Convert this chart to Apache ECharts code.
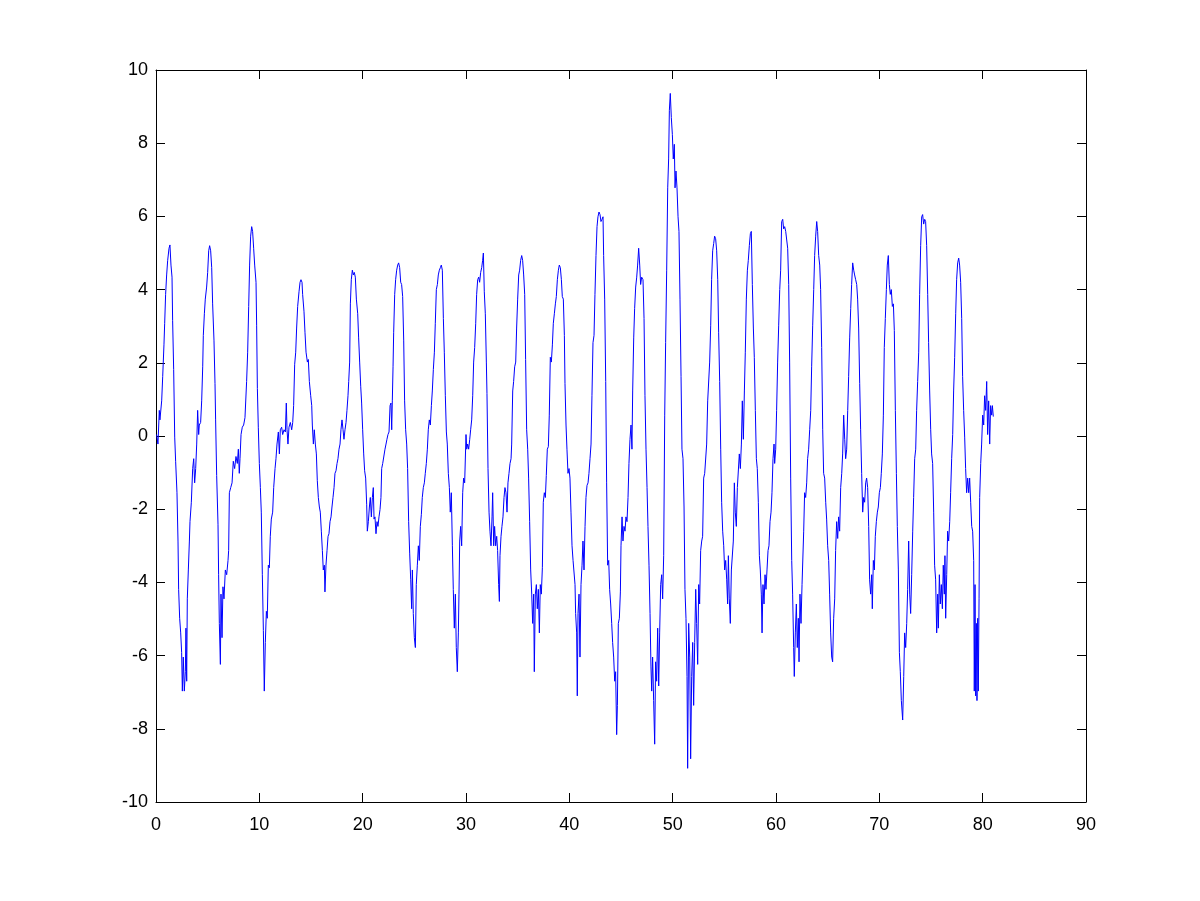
<!DOCTYPE html>
<html>
<head>
<meta charset="utf-8">
<script src="https://cdn.jsdelivr.net/npm/echarts@6/dist/echarts.min.js"></script>
<style>html,body{margin:0;padding:0;background:#fff;}#c{width:1200px;height:901px;}</style>
</head>
<body>
<div id="c"></div>
<script>
const xTicks = [0,10,20,30,40,50,60,70,80,90];
const yTicks = [-10,-8,-6,-4,-2,0,2,4,6,8,10];
const xs = [
0.06,0.19,0.32,0.38,0.55,0.65,0.77,0.84,0.93,1.03,1.13,1.26,1.35,1.45,1.55,1.61,1.71,1.81,1.9,2.03,2.13,2.19,2.29,2.39,2.48,2.55,2.64,2.74,2.84,2.9,2.97,3.03,3.13,3.23,3.29,3.42,3.55,3.65,3.74,3.84,3.94,4.03,4.13,4.19,4.32,4.42,4.52,4.58,4.68,4.77,4.9,5.0,5.1,5.19,5.29,5.39,5.48,5.61,5.71,5.77,5.87,6.0,6.06,6.13,6.23,6.29,6.39,6.48,6.58,6.71,6.84,6.97,7.03,7.1,7.23,7.36,7.48,7.61,7.74,7.87,7.97,8.06,8.13,8.23,8.35,8.48,8.61,8.71,8.77,8.87,8.97,9.06,9.16,9.26,9.35,9.45,9.55,9.68,9.74,9.81,9.9,10.0,10.1,10.19,10.29,10.39,10.48,10.58,10.68,10.77,10.87,10.97,11.06,11.16,11.29,11.39,11.52,11.61,11.71,11.84,11.94,12.03,12.16,12.26,12.39,12.52,12.61,12.68,12.77,12.87,13.0,13.13,13.23,13.32,13.42,13.52,13.61,13.71,13.84,13.94,14.03,14.13,14.19,14.32,14.42,14.52,14.65,14.74,14.84,
14.97,15.07,15.13,15.23,15.32,15.42,15.52,15.61,15.71,15.81,15.9,16.0,16.1,16.19,16.29,16.35,16.45,16.55,16.65,16.74,16.84,16.94,17.03,17.13,17.23,17.32,17.42,17.52,17.61,17.71,17.81,17.9,18.0,18.1,18.19,18.29,18.39,18.48,18.58,18.65,18.74,18.81,18.9,19.0,19.1,19.19,19.29,19.39,19.52,19.61,19.71,19.81,19.9,20.0,20.1,20.19,20.29,20.39,20.45,20.55,20.65,20.74,20.84,20.94,21.03,21.1,21.19,21.29,21.39,21.48,21.58,21.68,21.77,21.84,21.94,22.06,22.16,22.26,22.35,22.45,22.55,22.65,22.74,22.81,22.87,22.94,23.0,23.1,23.19,23.29,23.39,23.48,23.58,23.68,23.77,23.87,23.97,24.06,24.16,24.26,24.35,24.45,24.55,24.65,24.74,24.81,24.9,25.0,25.1,25.19,25.29,25.39,25.48,25.58,25.68,25.77,25.87,25.97,26.06,26.16,26.26,26.35,26.45,26.55,26.65,26.74,26.84,26.94,27.03,27.13,27.23,27.32,27.42,27.52,27.61,27.71,27.81,27.9,28.0,28.1,28.19,28.29,28.39,28.48,28.58,28.68,28.77,28.87,28.97,29.06,29.16,29.26,29.32,29.39,29.48,29.58,29.68,29.77,29.87,
30.0,30.07,30.16,30.26,30.36,30.45,30.55,30.65,30.74,30.84,30.94,31.03,31.13,31.23,31.32,31.42,31.52,31.61,31.68,31.77,31.87,31.97,32.03,32.13,32.23,32.32,32.42,32.52,32.58,32.68,32.77,32.87,32.97,33.06,33.16,33.23,33.29,33.39,33.48,33.58,33.68,33.77,33.87,33.97,34.06,34.16,34.26,34.36,34.42,34.52,34.61,34.71,34.81,34.9,35.0,35.1,35.19,35.29,35.39,35.48,35.58,35.68,35.77,35.87,35.97,36.06,36.16,36.26,36.36,36.45,36.55,36.61,36.71,36.81,36.9,37.0,37.1,37.19,37.29,37.39,37.48,37.58,37.68,37.77,37.87,37.97,38.06,38.16,38.26,38.36,38.45,38.55,38.65,38.74,38.84,38.94,39.03,39.13,39.23,39.32,39.42,39.52,39.58,39.68,39.77,39.87,39.97,40.06,40.16,40.26,40.36,40.45,40.55,40.61,40.71,40.77,40.84,40.94,41.03,41.13,41.23,41.32,41.42,41.52,41.61,41.71,41.81,41.9,42.0,42.1,42.19,42.29,42.39,42.48,42.58,42.68,42.77,42.87,42.97,43.06,43.16,43.26,43.32,43.42,43.52,43.61,43.71,43.81,43.9,44.0,44.1,44.19,44.29,44.39,44.48,44.58,44.65,44.74,44.84,44.94,45.0,
45.1,45.19,45.29,45.39,45.48,45.58,45.68,45.77,45.87,45.97,46.06,46.13,46.23,46.32,46.42,46.52,46.61,46.71,46.81,46.9,47.0,47.13,47.23,47.32,47.42,47.52,47.61,47.71,47.81,47.9,47.97,48.06,48.16,48.26,48.35,48.45,48.55,48.65,48.74,48.84,48.94,49.03,49.13,49.23,49.32,49.42,49.52,49.61,49.68,49.77,49.87,49.97,50.06,50.16,50.23,50.32,50.42,50.52,50.61,50.71,50.81,50.9,51.0,51.1,51.19,51.29,51.39,51.45,51.55,51.65,51.74,51.84,51.94,52.03,52.13,52.23,52.32,52.42,52.52,52.61,52.71,52.81,52.9,53.0,53.1,53.19,53.29,53.39,53.48,53.58,53.68,53.77,53.87,53.97,54.06,54.16,54.26,54.36,54.45,54.55,54.65,54.74,54.84,54.94,55.03,55.13,55.23,55.32,55.39,55.48,55.58,55.68,55.77,55.87,55.97,56.06,56.16,56.26,56.36,56.45,56.55,56.65,56.74,56.84,56.94,57.03,57.13,57.23,57.32,57.42,57.52,57.61,57.71,57.81,57.9,58.0,58.1,58.19,58.29,58.39,58.48,58.58,58.65,58.74,58.84,58.94,59.03,59.13,59.23,59.32,59.42,59.52,59.61,59.71,59.81,
59.87,59.97,60.06,60.16,60.26,60.36,60.45,60.55,60.65,60.74,60.84,60.94,61.03,61.13,61.23,61.32,61.42,61.52,61.61,61.71,61.77,61.87,61.97,62.06,62.16,62.23,62.32,62.42,62.52,62.61,62.68,62.77,62.87,62.97,63.06,63.16,63.26,63.36,63.45,63.55,63.65,63.74,63.84,63.94,64.03,64.13,64.23,64.32,64.42,64.52,64.61,64.71,64.81,64.9,65.0,65.1,65.19,65.29,65.39,65.48,65.58,65.68,65.77,65.87,65.97,66.06,66.16,66.26,66.36,66.45,66.55,66.65,66.74,66.84,66.94,67.03,67.13,67.23,67.32,67.42,67.52,67.61,67.71,67.81,67.9,68.0,68.1,68.19,68.29,68.39,68.48,68.58,68.68,68.77,68.87,68.97,69.06,69.16,69.26,69.32,69.42,69.52,69.61,69.71,69.81,69.9,70.0,70.1,70.19,70.29,70.39,70.48,70.58,70.68,70.77,70.87,70.97,71.06,71.16,71.26,71.36,71.45,71.55,71.65,71.74,71.84,71.94,72.03,72.13,72.26,72.36,72.45,72.55,72.65,72.74,72.84,72.94,73.03,73.13,73.23,73.32,73.42,73.52,73.61,73.71,73.81,73.9,74.0,74.1,74.19,74.29,74.39,74.48,74.58,74.68,74.77,74.87,
74.97,75.06,75.16,75.26,75.35,75.45,75.55,75.65,75.71,75.81,75.9,76.0,76.1,76.19,76.29,76.35,76.42,76.52,76.61,76.71,76.81,76.9,77.0,77.1,77.19,77.29,77.39,77.48,77.58,77.68,77.77,77.87,77.97,78.06,78.16,78.26,78.35,78.45,78.55,78.65,78.74,78.84,78.94,79.03,79.13,79.19,79.26,79.32,79.39,79.45,79.52,79.58,79.65,79.71,79.81,79.9,80.0,80.1,80.19,80.29,80.39,80.48,80.58,80.68,80.77,80.87,80.94,81.03
];
const ys = [
0.04,-0.22,0.7,0.44,0.96,1.63,2.49,3.08,3.87,4.4,4.8,5.13,5.22,4.67,4.34,3.15,1.82,-0.03,-0.69,-1.55,-2.87,-4.19,-4.98,-5.38,-5.91,-6.97,-6.04,-6.97,-6.44,-5.25,-6.7,-4.45,-3.66,-2.87,-2.34,-1.81,-0.89,-0.62,-1.28,-0.89,-0.22,0.7,0.04,0.3,0.37,0.96,1.89,2.75,3.34,3.74,4.07,4.47,5.06,5.2,5.06,4.6,3.61,2.62,1.43,0.44,-1.08,-2.41,-3.79,-5.12,-6.24,-4.32,-5.51,-4.12,-4.45,-3.66,-3.79,-3.4,-3.13,-1.55,-1.41,-1.28,-0.69,-0.89,-0.56,-0.75,-0.36,-1.02,-0.62,0.04,0.24,0.3,0.5,0.5,1.49,2.29,3.54,4.67,5.46,5.72,5.59,5.13,4.67,4.2,3.01,1.3,0.24,-0.75,-1.41,-2.08,-3.79,-5.31,-6.97,-5.64,-4.79,-4.98,-3.53,-3.6,-2.74,-2.27,-2.08,-1.41,-0.89,-0.62,-0.22,0.11,-0.49,0.17,0.24,0.04,0.17,0.11,0.9,0.17,-0.22,0.24,0.37,0.17,0.37,0.83,1.96,2.29,2.95,3.54,3.94,4.2,4.27,4.2,3.87,3.41,2.82,2.29,2.02,2.09,1.49,
1.1,0.83,0.3,-0.22,0.17,-0.22,-0.49,-1.22,-1.68,-1.94,-2.08,-2.6,-3.13,-3.66,-3.53,-4.26,-3.53,-3.13,-2.74,-2.67,-2.34,-2.21,-1.94,-1.68,-1.41,-1.02,-0.95,-0.75,-0.62,-0.36,-0.22,0.17,0.44,0.17,-0.09,0.17,0.37,0.7,1.1,1.49,2.02,3.61,4.27,4.53,4.4,4.47,4.34,3.74,3.34,2.68,2.02,1.36,0.9,0.17,-0.49,-0.95,-1.15,-1.88,-2.6,-2.34,-1.94,-1.68,-2.21,-1.68,-1.41,-2.27,-2.21,-2.67,-2.34,-2.47,-2.21,-2.01,-1.68,-0.89,-0.75,-0.75,-0.36,-0.22,-0.09,0.04,0.11,0.83,0.9,0.17,0.96,1.89,2.82,3.87,4.27,4.53,4.67,4.73,4.6,4.2,4.14,3.81,2.62,0.96,0.17,-0.22,-0.89,-2.34,-3.2,-3.93,-4.72,-3.66,-4.85,-5.51,-5.78,-4.06,-3.53,-3.0,-3.4,-2.47,-2.14,-1.68,-1.41,-1.28,-1.02,-0.75,-0.36,0.17,0.44,0.3,0.83,1.23,1.82,2.29,3.08,4.0,4.14,4.4,4.53,4.6,4.67,4.53,3.21,2.29,1.1,0.11,-0.22,-1.02,-1.41,-2.08,-1.55,-3.0,-4.19,-5.25,-4.32,-5.78,-6.44,-5.38,-4.32,-2.87,-2.47,-3.0,-1.55,-1.15,-1.28,
0.04,-0.36,-0.22,-0.36,-0.09,0.17,0.44,1.1,2.02,2.42,3.08,3.87,4.27,4.34,4.2,4.47,4.6,4.8,5.0,3.94,3.34,2.02,1.16,-0.89,-2.08,-2.6,-3.0,-2.21,-1.55,-3.0,-2.47,-3.0,-2.74,-3.13,-4.06,-4.52,-3.27,-2.74,-2.47,-2.21,-1.68,-1.41,-1.55,-2.08,-1.28,-1.02,-0.75,-0.62,-0.22,1.23,1.49,1.89,2.02,2.95,3.74,4.4,4.53,4.8,4.93,4.8,4.4,3.87,2.09,0.17,-0.36,-1.15,-2.34,-3.66,-4.32,-5.12,-4.32,-6.44,-4.32,-4.06,-4.72,-4.19,-5.38,-4.06,-4.32,-3.6,-1.81,-1.55,-1.68,-1.08,-0.36,-0.29,0.57,2.15,2.02,2.49,3.08,3.34,3.61,3.81,4.27,4.53,4.67,4.6,4.27,3.81,3.74,2.75,1.43,0.3,-0.36,-1.02,-0.89,-1.15,-2.08,-3.0,-3.4,-3.4,-4.06,-4.85,-5.38,-7.1,-4.85,-4.32,-6.04,-4.06,-3.53,-2.87,-3.66,-2.47,-1.68,-1.35,-1.28,-1.02,-0.62,-0.22,1.1,2.55,2.75,3.87,4.93,5.72,5.99,6.12,6.05,5.86,5.92,5.99,4.93,3.74,1.49,-1.28,-3.53,-3.4,-4.19,-4.59,-5.12,-5.64,-6.04,-6.7,-6.44,-8.16,-7.36,-5.12,-4.98,-4.26,-3.0,
-2.21,-2.87,-2.47,-2.6,-2.21,-2.34,-1.68,-0.75,-0.09,0.3,-0.36,1.23,2.68,3.48,4.07,4.34,4.67,5.13,4.67,4.14,4.34,4.27,3.21,1.1,-0.36,-1.41,-2.47,-3.53,-4.85,-6.31,-6.97,-6.04,-7.23,-8.42,-6.17,-6.7,-5.25,-6.83,-5.38,-4.06,-3.79,-4.45,-3.27,0.57,2.55,4.53,6.78,7.57,8.9,9.36,8.7,8.24,7.57,7.97,6.78,7.24,6.78,5.99,5.59,3.74,1.63,-0.36,-0.62,-1.94,-4.19,-4.98,-6.57,-9.08,-5.12,-6.04,-8.82,-6.57,-5.64,-7.36,-5.64,-4.19,-5.12,-6.24,-4.06,-4.59,-3.13,-2.87,-2.74,-1.15,-1.02,-1.02,-0.22,0.96,0.96,2.02,3.01,4.27,5.06,5.26,5.46,5.39,5.06,4.27,2.82,1.49,-0.36,-1.81,-2.6,-3.0,-3.66,-3.4,-3.93,-4.59,-3.27,-4.45,-5.12,-3.66,-3.66,-2.87,-1.28,-2.08,-2.47,-1.41,-1.41,-0.49,-0.89,-0.22,0.96,-0.09,1.23,2.29,3.74,4.53,4.8,5.2,5.53,5.59,4.14,2.95,2.15,0.7,-0.62,-0.89,-1.81,-3.27,-3.66,-4.32,-5.38,-4.06,-4.59,-3.79,-4.19,-3.66,-3.13,-3.0,-2.34,-2.08,-1.55,-0.62,-0.22,
-0.75,-0.36,0.7,2.02,3.01,4.0,4.53,5.86,5.92,5.66,5.72,5.59,5.59,5.13,4.14,2.02,-1.15,-3.4,-4.32,-5.78,-6.57,-5.38,-4.59,-5.78,-4.98,-6.17,-4.32,-5.12,-4.06,-4.06,-2.6,-1.55,-1.68,-1.28,-0.62,-0.36,0.17,0.7,1.89,3.01,4.0,4.93,5.46,5.86,5.59,4.93,4.67,4.0,2.42,0.17,-1.02,-1.15,-1.81,-2.27,-3.0,-3.4,-4.32,-5.38,-6.04,-6.17,-4.98,-4.45,-3.13,-2.34,-2.8,-2.21,-2.6,-1.41,-1.02,-0.49,0.57,-0.09,-0.62,-0.36,0.7,1.63,2.68,3.48,4.14,4.73,4.53,4.4,4.27,4.14,3.74,2.95,1.43,0.17,-1.02,-2.08,-1.68,-1.81,-1.28,-1.15,-1.41,-2.47,-3.93,-4.32,-3.79,-4.72,-3.4,-3.66,-2.74,-2.34,-2.08,-1.94,-1.55,-1.41,-1.02,-0.49,0.57,2.42,3.21,4.0,4.67,4.93,4.14,3.87,4.0,3.54,3.61,2.88,0.7,-1.02,-2.47,-3.66,-5.91,-6.44,-7.23,-7.76,-6.57,-5.38,-5.78,-5.12,-4.19,-2.87,-4.32,-4.85,-3.79,-2.6,-1.68,-0.62,-0.36,0.7,1.49,2.29,3.87,5.2,5.99,6.05,5.79,5.92,5.86,5.2,3.87,2.55,1.23,
0.17,-0.49,-0.75,-2.08,-3.53,-3.93,-5.38,-4.32,-5.25,-3.79,-4.59,-4.06,-4.72,-3.53,-4.32,-3.27,-4.98,-3.79,-2.6,-2.87,-2.34,-1.55,-0.62,0.04,1.23,2.15,3.34,4.27,4.73,4.86,4.67,4.2,3.21,1.63,0.7,-0.03,-0.89,-1.55,-1.15,-1.55,-1.15,-1.81,-2.47,-2.6,-3.4,-6.97,-4.06,-7.1,-5.12,-7.23,-4.98,-6.97,-4.45,-1.68,-0.75,-0.22,0.57,0.3,1.1,0.7,1.49,0.04,0.96,-0.22,0.83,0.57,0.83,0.53
];
const data = xs.map((x, i) => [x, ys[i]]);
const chart = echarts.init(document.getElementById('c'), null, {renderer: 'canvas'});
const font = {fontFamily: 'Liberation Sans', fontSize: 18, color: '#000'};
const lineStyle = {color: '#000', width: 1};
chart.setOption({
  animation: false,
  backgroundColor: '#fff',
  grid: {left: 156, right: 114, top: 70, bottom: 99, containLabel: false},
  xAxis: [
    {type: 'value', position: 'bottom', min: 0, max: 90, interval: 10,
     axisLine: {show: true, onZero: false, lineStyle}, axisTick: {show: true, inside: true, length: 9, lineStyle},
     axisLabel: Object.assign({margin: 14, formatter: v => xTicks.includes(v) ? String(v) : ''}, font), splitLine: {show: false}},
    {type: 'value', position: 'top', min: 0, max: 90, interval: 10,
     axisLine: {show: true, onZero: false, lineStyle}, axisTick: {show: true, inside: true, length: 9, lineStyle},
     axisLabel: {show: false}, splitLine: {show: false}}
  ],
  yAxis: [
    {type: 'value', position: 'left', min: -10, max: 10, interval: 2,
     axisLine: {show: true, onZero: false, lineStyle}, axisTick: {show: true, inside: true, length: 9, lineStyle},
     axisLabel: Object.assign({margin: 8, formatter: v => yTicks.includes(v) ? String(v) : ''}, font), splitLine: {show: false}},
    {type: 'value', position: 'right', min: -10, max: 10, interval: 2,
     axisLine: {show: true, onZero: false, lineStyle}, axisTick: {show: true, inside: true, length: 9, lineStyle},
     axisLabel: {show: false}, splitLine: {show: false}}
  ],
  series: [{
    type: 'line', data: data, xAxisIndex: 0, yAxisIndex: 0,
    showSymbol: false, symbol: 'none',
    lineStyle: {color: '#0000ff', width: 1},
    itemStyle: {color: '#0000ff'}
  }]
});
</script>
</body>
</html>
